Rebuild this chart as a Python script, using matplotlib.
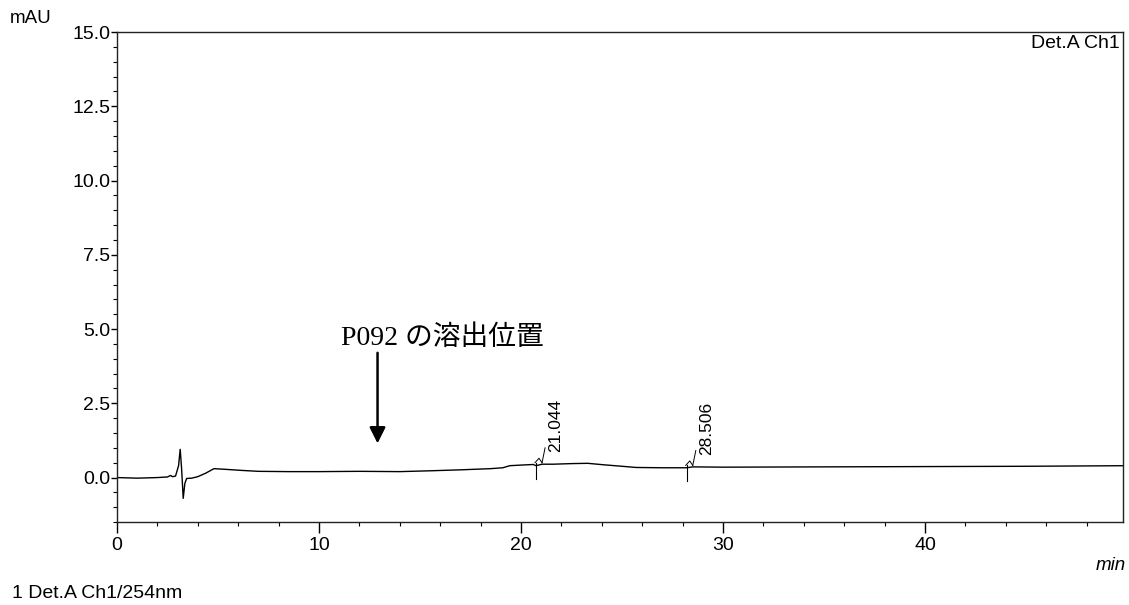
import numpy as np
import matplotlib.pyplot as plt
from matplotlib.ticker import MultipleLocator

# --- chromatogram trace (time in min, signal in mAU) ---
time_min = [0.0, 1.0, 2.0, 2.5, 2.65, 2.75, 2.9, 3.05, 3.13, 3.2, 3.28, 3.36, 3.45,
            3.7, 4.0, 4.4, 4.8, 5.3, 6.2, 7.0, 8.5, 10.0, 12.0, 14.0, 15.6, 17.0,
            18.5, 19.1, 19.45, 20.0, 20.6, 20.75, 21.044, 21.6, 22.5, 23.3, 24.1,
            25.0, 25.7, 27.0, 28.2, 28.506, 30.0, 35.0, 40.0, 45.0, 50.0]
signal_mau = [0.0, -0.02, 0.0, 0.02, 0.07, 0.03, 0.05, 0.4, 0.95, 0.3, -0.7, -0.2, -0.03,
              -0.02, 0.03, 0.15, 0.3, 0.28, 0.24, 0.21, 0.2, 0.2, 0.21, 0.2, 0.23, 0.26,
              0.3, 0.33, 0.4, 0.42, 0.44, 0.4, 0.45, 0.45, 0.47, 0.48, 0.43,
              0.38, 0.34, 0.33, 0.33, 0.36, 0.35, 0.36, 0.37, 0.38, 0.4]

# integrated peaks
peak_times = [21.044, 28.506]
peak_labels = ['21.044', '28.506']
peak_starts = [20.75, 28.2]

# elution position of P092
marker_time = 12.9
marker_text = 'P092 の溶出位置'

plt.rcParams['font.family'] = ['Liberation Sans', 'DejaVu Sans']

fig = plt.figure(figsize=(11.29, 6.05), dpi=100)
ax = fig.add_axes([0.1036, 0.137, 0.891, 0.81])

ax.plot(time_min, signal_mau, color='black', lw=1.0)

# peak start markers and retention time labels
base = np.interp(peak_starts, time_min, signal_mau)
for ps, b in zip(peak_starts, base):
    ax.plot([ps, ps], [b + 0.1, b - 0.45], color='black', lw=0.8)
for pt, lab in zip(peak_times, peak_labels):
    yb = np.interp(pt, time_min, signal_mau)
    ax.plot([pt - 0.35, pt - 0.15, pt], [yb + 0.05, yb + 0.2, yb + 0.05], color='black', lw=0.7)
    ax.plot([pt, pt + 0.15], [yb + 0.05, yb + 0.55], color='black', lw=0.7)
    ax.text(pt + 0.3, yb + 0.4, lab, rotation=90, ha='left', va='bottom', fontsize=12.5)

# arrow for expected elution position
ax.annotate('', xy=(marker_time, 1.15), xytext=(marker_time, 4.2),
            arrowprops=dict(arrowstyle='-|>', color='black', lw=1.8,
                            mutation_scale=24, shrinkA=0, shrinkB=0))
ax.text(marker_time + 3.2, 4.25, marker_text, ha='center', va='bottom', fontsize=20,
        family=['Liberation Serif', 'Noto Sans CJK JP'])

ax.set_xlim(0, 49.8)
ax.set_ylim(-1.5, 15.0)
ax.xaxis.set_major_locator(MultipleLocator(10))
ax.xaxis.set_minor_locator(MultipleLocator(2))
ax.yaxis.set_major_locator(MultipleLocator(2.5))
ax.yaxis.set_minor_locator(MultipleLocator(0.5))
ax.yaxis.set_major_formatter(plt.FormatStrFormatter('%.1f'))
ax.tick_params(axis='x', which='major', length=8, width=1, labelsize=14, pad=3)
ax.tick_params(axis='x', which='minor', length=3, width=0.8)
ax.tick_params(axis='y', which='major', length=4, width=1, labelsize=14, pad=1)
ax.tick_params(axis='y', which='minor', length=3, width=0.8)
for s in ax.spines.values():
    s.set_linewidth(1.0)
    s.set_color('#222222')

ax.text(0.997, 0.995, 'Det.A Ch1', transform=ax.transAxes, ha='right', va='top', fontsize=14)
fig.text(0.009, 0.955, 'mAU', ha='left', va='bottom', fontsize=13.5)
fig.text(0.997, 0.052, 'min', ha='right', va='bottom', fontsize=13.5, style='italic')
fig.text(0.011, 0.005, '1 Det.A Ch1/254nm', ha='left', va='bottom', fontsize=14)

fig.savefig('out.png', dpi=100)
